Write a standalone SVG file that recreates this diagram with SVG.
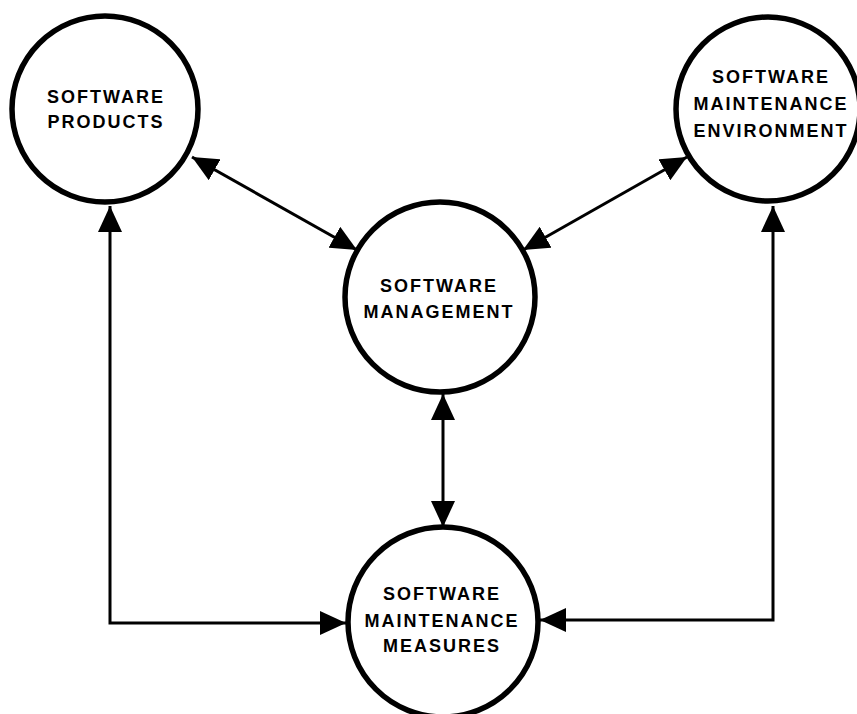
<svg xmlns="http://www.w3.org/2000/svg" width="857" height="714" viewBox="0 0 857 714">
<style>
.node circle{fill:#fff;stroke:#000;stroke-width:5.5}
.node text{font-family:"Liberation Sans",Arial,sans-serif;font-weight:bold;font-size:18px;letter-spacing:2px;text-anchor:middle;fill:#000}
.conn{fill:none;stroke:#000;stroke-width:3}
</style>
<defs>
<marker id="ah" markerUnits="userSpaceOnUse" markerWidth="27" markerHeight="24" refX="26" refY="12" orient="auto-start-reverse" viewBox="0 0 27 24">
<path d="M0,0 L26,12 L0,24 z" fill="#000"/>
</marker>
</defs>
<rect width="857" height="714" fill="#fff"/>
<g id="connectors">
<path class="conn" d="M110,206 L110,623 L346,623" marker-start="url(#ah)" marker-end="url(#ah)"/>
<path class="conn" d="M773,206 L773,620 L540,620" marker-start="url(#ah)" marker-end="url(#ah)"/>
<path class="conn" d="M192,157 L357,250" marker-start="url(#ah)" marker-end="url(#ah)"/>
<path class="conn" d="M523,250 L687,157" marker-start="url(#ah)" marker-end="url(#ah)"/>
<path class="conn" d="M443,394 L443,527" marker-start="url(#ah)" marker-end="url(#ah)"/>
</g>
<g id="node-products" class="node">
<circle cx="105" cy="109" r="93"/>
<text x="106" y="103">SOFTWARE</text>
<text x="106" y="128">PRODUCTS</text>
</g>
<g id="node-environment" class="node">
<circle cx="768" cy="109" r="92"/>
<text x="771" y="83">SOFTWARE</text>
<text x="771" y="110">MAINTENANCE</text>
<text x="771" y="137">ENVIRONMENT</text>
</g>
<g id="node-management" class="node">
<circle cx="440" cy="297" r="95"/>
<text x="439" y="292">SOFTWARE</text>
<text x="439" y="318">MANAGEMENT</text>
</g>
<g id="node-measures" class="node">
<circle cx="443" cy="622" r="95"/>
<text x="442" y="600">SOFTWARE</text>
<text x="442" y="627">MAINTENANCE</text>
<text x="442" y="652">MEASURES</text>
</g>
</svg>
